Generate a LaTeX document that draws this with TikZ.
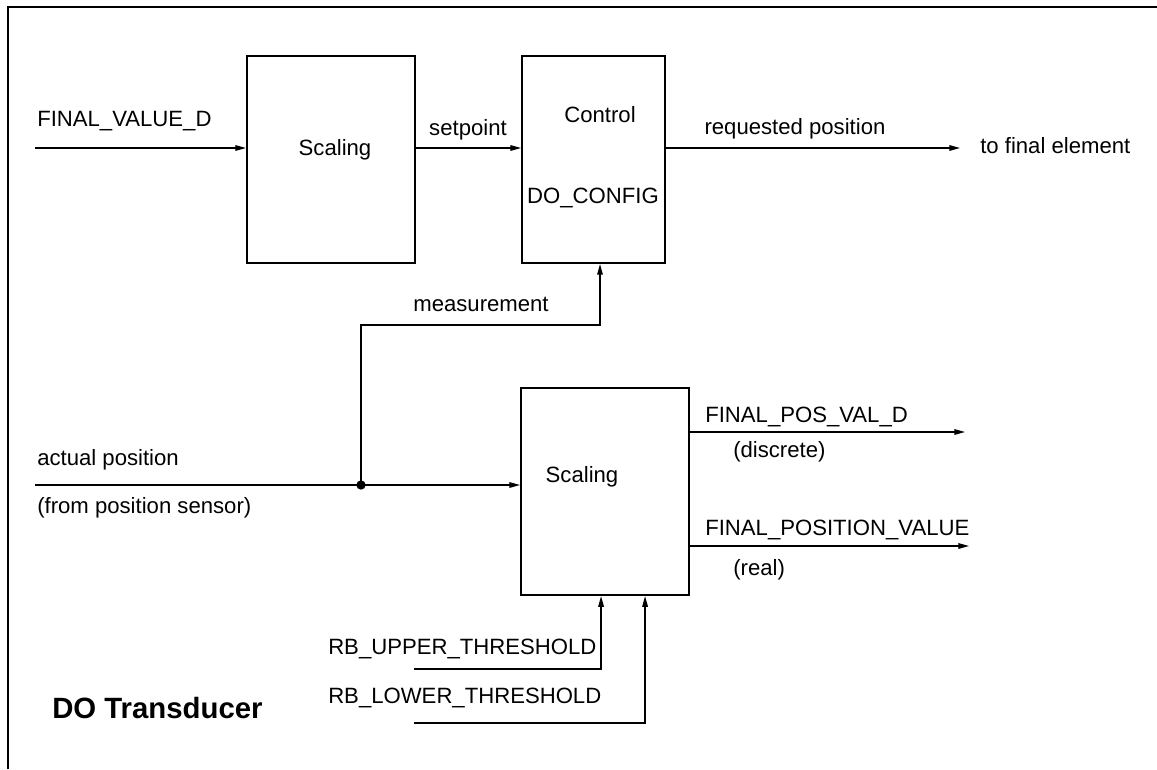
\documentclass[tikz,border=0pt]{standalone}
\usepackage{fontspec}
\setmainfont{Liberation Sans}
\usepackage{tikz}
\usetikzlibrary{positioning,arrows.meta}

\begin{document}
\begin{tikzpicture}[
    x=0.75pt, y=-0.75pt,
    box/.style={draw, line width=1.6pt, minimum width=126pt, minimum height=155.25pt, inner sep=0pt},
    arrow/.style={-{Triangle[length=8pt,width=4.2pt]}, line width=0.9pt},
    wire/.style={line width=0.9pt},
    lbl/.style={inner sep=0pt, font=\fontsize{16.6}{20}\selectfont},
]
    \useasboundingbox (0,0) rectangle (1157,769);
    \draw[line width=1.1pt] (8,769) |- (1157,7);

    % blocks
    \node[box] (scale1) at (331,159.5) {};
    \node[box, minimum width=107pt, right=78.75pt of scale1] (ctrl) {};
    \node[box, anchor=north west] (scale2) at (520,387) {};

    \node[lbl] (t-scale1) at (335,150) {Scaling};
    \node[lbl] (t-ctrl) at (600,115) {Control};
    \node[lbl] (t-config) at (593,198) {DO\_CONFIG};
    \node[lbl] (t-scale2) at (582,477) {Scaling};

    % free ends
    \coordinate (fv-in) at (35,148);
    \coordinate (req-out) at (960,148);
    \coordinate (ap-in) at (35,485);
    \coordinate (jct) at (361,485);
    \coordinate (meas) at (600,325);
    \coordinate (pos-out) at (965,432);
    \coordinate (val-out) at (969,546);
    \coordinate (up-in) at (414,669);
    \coordinate (lo-in) at (414,723);

    % labels
    \node[lbl, anchor=west] (l-fv) at (37,121) {FINAL\_VALUE\_D};
    \node[lbl] (l-sp) at (468,130) {setpoint};
    \node[lbl] (l-req) at (795,129) {requested position};
    \node[lbl, anchor=west] (l-final) at (980,146) {to final element};
    \node[lbl] (l-meas) at (481,304) {measurement};
    \node[lbl, anchor=west] (l-ap) at (37,460) {actual position};
    \node[lbl, anchor=west] (l-sensor) at (37,508) {(from position sensor)};
    \node[lbl, anchor=west] (l-pos) at (705,417) {FINAL\_POS\_VAL\_D};
    \node[lbl, anchor=west] (l-disc) at (733,452) {(discrete)};
    \node[lbl, anchor=west] (l-val) at (705,530) {FINAL\_POSITION\_VALUE};
    \node[lbl, anchor=west] (l-real) at (733,570) {(real)};
    \node[lbl, anchor=west] (l-up) at (328,649) {RB\_UPPER\_THRESHOLD};
    \node[lbl, anchor=west] (l-lo) at (328,698) {RB\_LOWER\_THRESHOLD};
    \node[lbl, anchor=west, font=\fontsize{22}{26}\selectfont\bfseries] (l-title) at (52,708) {DO Transducer};

    % connectors
    \draw[arrow] (fv-in) -- (fv-in -| scale1.west);
    \draw[arrow] (fv-in -| scale1.east) -- (fv-in -| ctrl.west);
    \draw[arrow] (req-out -| ctrl.east) -- (req-out);
    \draw[wire] (ap-in) -- (jct);
    \fill (jct) circle (3.5pt);
    \draw[arrow] (jct) -- (jct -| scale2.west);
    \draw[arrow] (jct) |- (meas) -- (meas |- ctrl.south);
    \draw[arrow] (pos-out -| scale2.east) -- (pos-out);
    \draw[arrow] (val-out -| scale2.east) -- (val-out);
    \draw[arrow] (up-in) -| ([xshift=-3pt]scale2.south);
    \draw[arrow] (lo-in) -| ([xshift=30pt]scale2.south);
\end{tikzpicture}
\end{document}
